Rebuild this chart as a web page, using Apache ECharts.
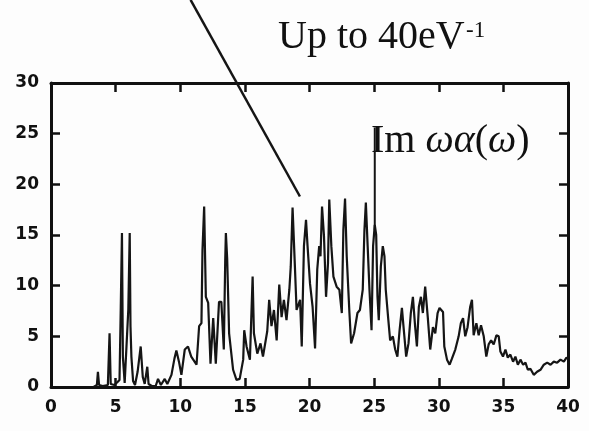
<!DOCTYPE html>
<html>
<head>
<meta charset="utf-8">
<script src="https://cdn.jsdelivr.net/npm/echarts@6/dist/echarts.min.js"></script>
<style>
  html, body { margin: 0; padding: 0; background: #fdfdfd; }
  #chart { width: 589px; height: 431px; }
</style>
</head>
<body>
<div id="chart"></div>
<script>
// photon energy (eV) and Im ωα(ω)
const energy = [
  3.3, 3.55, 3.63, 3.72, 4.0, 4.4, 4.53, 4.62, 4.9, 5.15, 5.3, 5.38, 5.49, 5.56, 5.7, 5.85, 5.98, 6.09, 6.15, 6.22,
  6.35, 6.5, 6.7, 6.94, 7.1, 7.25, 7.45, 7.55, 7.8, 8.1, 8.28, 8.5, 8.8, 9.0, 9.32, 9.55, 9.7, 9.9, 10.09, 10.35,
  10.6, 10.85, 11.26, 11.46, 11.64, 11.72, 11.85, 11.98, 12.16, 12.34, 12.55, 12.75, 13.0, 13.18, 13.37, 13.48, 13.53, 13.63, 13.78, 14.09,
  14.35, 14.6, 14.87, 14.95, 15.13, 15.39, 15.6, 15.7, 15.96, 16.21, 16.4, 16.73, 16.88, 17.06, 17.25, 17.46, 17.66, 17.84, 18.02, 18.22,
  18.44, 18.55, 18.69, 18.87, 19.0, 19.27, 19.4, 19.57, 19.73, 19.85, 20.04, 20.24, 20.43, 20.6, 20.75, 20.85, 20.97, 21.12, 21.28, 21.43,
  21.53, 21.69, 21.85, 22.1, 22.31, 22.5, 22.62, 22.75, 22.88, 23.09, 23.22, 23.45, 23.71, 23.9, 24.12, 24.25, 24.36, 24.5, 24.64, 24.8,
  24.92, 25.05, 25.16, 25.26, 25.36, 25.52, 25.67, 25.8, 25.9, 26.1, 26.24, 26.45, 26.63, 26.8, 26.97, 27.15, 27.27, 27.48, 27.66, 27.84,
  28.0, 28.17, 28.31, 28.46, 28.62, 28.77, 28.95, 29.15, 29.34, 29.55, 29.73, 29.91, 30.06, 30.33, 30.43, 30.64, 30.84, 31.02, 31.28, 31.54,
  31.71, 31.88, 32.05, 32.23, 32.43, 32.57, 32.7, 32.91, 33.09, 33.27, 33.48, 33.68, 33.86, 34.05, 34.25, 34.46, 34.64, 34.77, 34.97, 35.16,
  35.34, 35.54, 35.75, 35.93, 36.12, 36.32, 36.53, 36.71, 36.89, 37.09, 37.35, 37.61, 37.87, 38.13, 38.39, 38.65, 38.9, 39.16, 39.42, 39.68,
  39.88, 40.0
];
const imWAlpha = [
  0, 0.2, 1.5, 0.2, 0.1, 0.2, 5.3, 0.3, 0.2, 0.5, 0.7, 6.5, 15.2, 3.0, 0.4, 0.3, 7.6, 15.2, 6.0, 3.0,
  0.6, 0.2, 1.5, 4.0, 1.0, 0.3, 2.0, 0.3, 0.1, 0.1, 0.8, 0.2, 0.8, 0.3, 1.2, 2.8, 3.6, 2.5, 1.2, 3.7,
  4.0, 3.0, 2.2, 6.0, 6.3, 13.5, 17.8, 8.9, 8.3, 2.3, 6.8, 2.3, 8.4, 8.4, 3.7, 12.5, 15.2, 12.7, 5.3, 1.7,
  0.7, 0.8, 2.7, 5.6, 4.0, 2.7, 10.9, 5.3, 3.3, 4.3, 3.0, 5.5, 8.6, 6.0, 7.6, 4.6, 10.1, 6.9, 8.6, 6.6,
  9.6, 11.9, 17.7, 11.9, 7.6, 8.6, 4.0, 13.9, 16.5, 13.9, 10.2, 7.9, 3.8, 11.6, 13.9, 12.9, 17.8, 14.9, 8.9, 12.2,
  18.5, 13.9, 10.9, 9.9, 9.6, 7.3, 15.5, 18.6, 12.9, 7.3, 4.3, 5.3, 7.3, 7.6, 9.6, 15.5, 18.2, 13.9, 9.6, 5.6,
  13.9, 16.0, 15.0, 8.9, 6.6, 11.9, 13.9, 12.9, 9.6, 6.6, 4.6, 5.0, 3.7, 3.0, 5.6, 7.8, 6.0, 3.0, 4.3, 7.3,
  8.9, 6.0, 4.0, 7.9, 8.9, 7.3, 9.9, 6.9, 3.7, 5.9, 5.3, 7.3, 7.8, 7.4, 4.0, 2.7, 2.2, 2.8, 3.7, 5.0,
  6.3, 6.8, 5.0, 5.9, 7.9, 8.6, 5.1, 6.3, 5.1, 6.1, 5.0, 3.0, 4.2, 4.6, 4.2, 5.1, 5.0, 3.5, 3.0, 3.7,
  2.9, 3.2, 2.5, 3.0, 2.2, 2.7, 2.2, 2.4, 1.7, 1.8, 1.2, 1.5, 1.7, 2.2, 2.4, 2.2, 2.5, 2.4, 2.7, 2.5,
  2.9, 2.8
];

// annotation lines (data coordinates)
const arrowX = [10.8, 19.26];
const arrowY = [38.2, 18.8];
const pointerX = [25.05, 25.05];
const pointerY = [15.5, 25.6];

const xTicks = [0, 40, 5];   // min, max, step
const yTicks = [0, 30, 5];

const pairs = (xs, ys) => xs.map((x, i) => [x, ys[i]]);

const chart = echarts.init(document.getElementById('chart'));

const frameLine = { show: true, onZero: false, lineStyle: { color: '#111', width: 3 } };
const tickIn = { show: true, inside: true, length: 9, lineStyle: { color: '#111', width: 2.5 } };
const labelFont = { color: '#111', fontFamily: 'DejaVu Sans', fontWeight: 'bold', fontSize: 17 };

chart.setOption({
  animation: false,
  backgroundColor: '#fdfdfd',
  grid: { left: 51, right: 21, top: 83, bottom: 44 },
  xAxis: [
    { type: 'value', position: 'bottom', min: xTicks[0], max: xTicks[1], interval: xTicks[2],
      axisLine: frameLine, axisTick: tickIn, splitLine: { show: false },
      axisLabel: Object.assign({ margin: 12 }, labelFont) },
    { type: 'value', position: 'top', min: xTicks[0], max: xTicks[1], interval: xTicks[2],
      axisLine: frameLine, axisTick: tickIn, splitLine: { show: false },
      axisLabel: { show: false } }
  ],
  yAxis: [
    { type: 'value', position: 'left', min: yTicks[0], max: yTicks[1], interval: yTicks[2],
      axisLine: frameLine, axisTick: tickIn, splitLine: { show: false },
      axisLabel: Object.assign({ margin: 12 }, labelFont) },
    { type: 'value', position: 'right', min: yTicks[0], max: yTicks[1], interval: yTicks[2],
      axisLine: frameLine, axisTick: tickIn, splitLine: { show: false },
      axisLabel: { show: false } }
  ],
  series: [
    {
      name: 'Im ωα(ω)',
      type: 'line',
      data: pairs(energy, imWAlpha),
      symbol: 'none',
      lineStyle: { color: '#151515', width: 2.2 }
    },
    {
      type: 'line',
      data: pairs(pointerX, pointerY),
      symbol: 'none',
      clip: false,
      lineStyle: { color: '#151515', width: 2 }
    },
    {
      type: 'line',
      data: pairs(arrowX, arrowY),
      symbol: 'none',
      clip: false,
      lineStyle: { color: '#151515', width: 2.5 }
    }
  ],
  graphic: [
    {
      type: 'text', left: 278, top: 17,
      style: { text: 'Up to 40eV', fill: '#111', font: '40px "Liberation Serif"' }
    },
    {
      type: 'text', left: 466, top: 19,
      style: { text: '-1', fill: '#111', font: '23px "Liberation Serif"' }
    },
    {
      type: 'text', left: 371, top: 121,
      style: {
        text: '{r|Im }{i|ωα}{r|(}{i|ω}{r|)}',
        rich: {
          r: { fontFamily: 'Liberation Serif', fontSize: 40, fill: '#111', color: '#111' },
          i: { fontFamily: 'Liberation Serif', fontStyle: 'italic', fontSize: 40, fill: '#111', color: '#111' }
        }
      }
    }
  ]
});
</script>
</body>
</html>
